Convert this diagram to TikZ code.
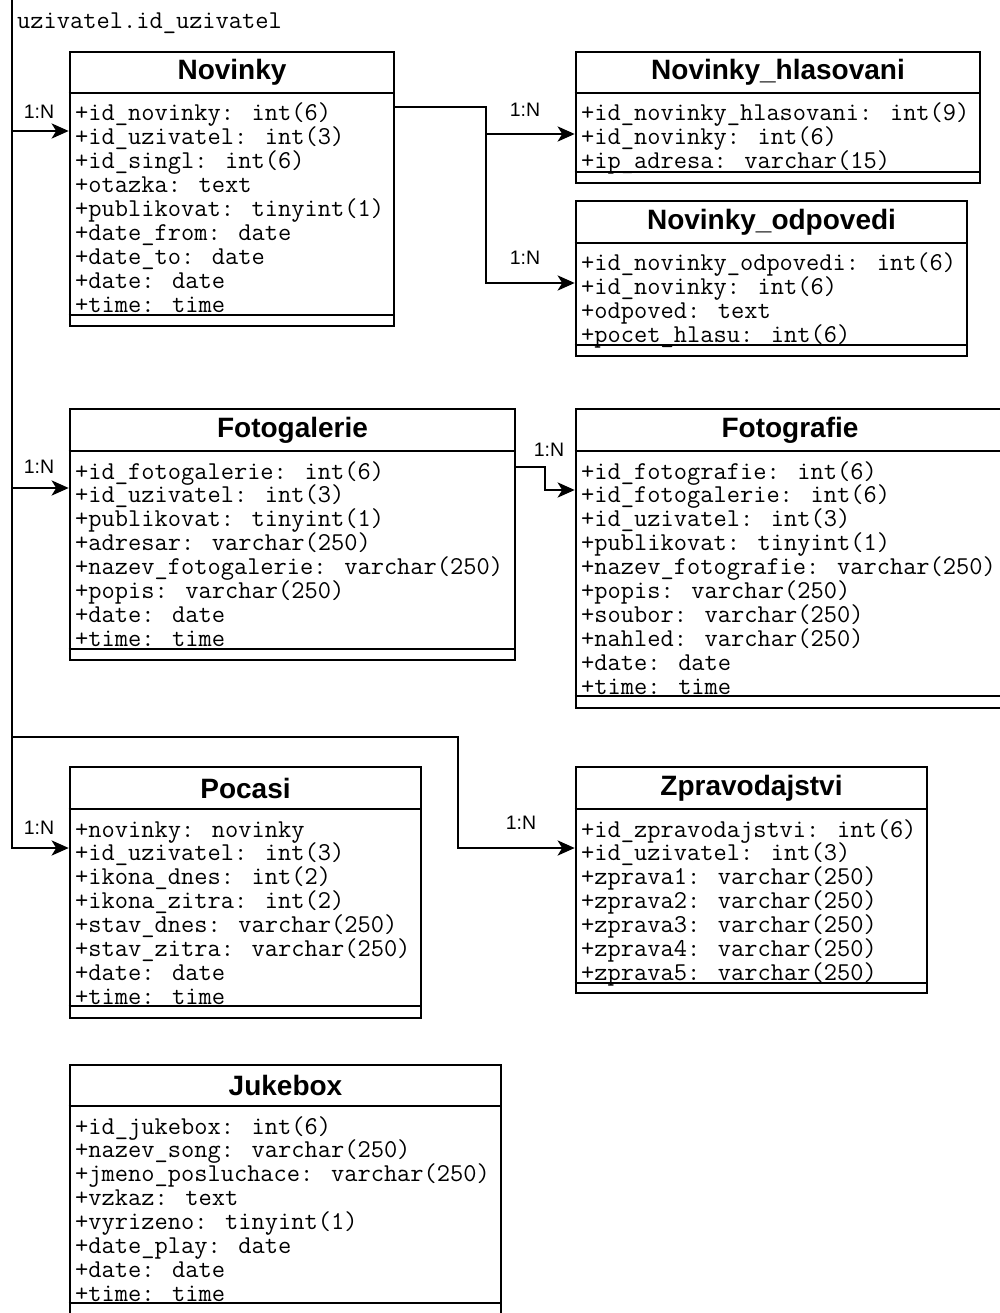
\documentclass[tikz,border=0pt]{standalone}
\usepackage{fontspec}
\setmainfont{Liberation Sans}
\usetikzlibrary{arrows.meta,fit}
\tikzset{
  box/.style={draw, line width=2.6pt, inner sep=0pt},
  sepline/.style={line width=2.4pt},
  titletext/.style={font=\fontsize{28}{30}\selectfont\bfseries, inner sep=0pt},
  attrtext/.style={anchor=base west, inner sep=0pt, font=\fontsize{25.7}{27}\ttfamily},
  conn/.style={line width=2.8pt},
  arr/.style={conn, -{Stealth[length=17pt,width=15pt,inset=4.5pt]}},
  card/.style={font=\fontsize{19.5}{21}\selectfont, inner sep=0pt}
}
% id, title, left, top, right, bottom, titlesep, attrsep, rows
\newcommand\umlclass[9]{%
  \node[box, fit={(#3,#4) (#5,#6)}] (#1) {};
  \draw[sepline] (#1.west |- #3,#7) -- (#1.east |- #5,#7);
  \draw[sepline] (#1.west |- #3,#8) -- (#1.east |- #5,#8);
  \node[titletext] (#1-title) at ({(#3+#5)/2},{(#4+#7)/2}) {#2};
  \foreach \r [count=\i from 0] in {#9} {
    \node[attrtext] (#1-\i) at (#3+5, #7+28+\i*23.9) {\r};
  }%
}
\begin{document}
\begin{tikzpicture}[x=1pt,y=-1pt]
\path[use as bounding box] (0,0) rectangle (1000,1313);
\clip (0,0) rectangle (1000,1313);

\umlclass{nov}{Novinky}{70}{52}{394}{326}{93}{315}{%
+id\_novinky: int(6),+id\_uzivatel: int(3),+id\_singl: int(6),+otazka: text,+publikovat: tinyint(1),+date\_from: date,+date\_to: date,+date: date,+time: time}

\umlclass{hla}{Novinky\_hlasovani}{576}{52}{980}{183}{93}{172}{%
+id\_novinky\_hlasovani: int(9),+id\_novinky: int(6),+ip\_adresa: varchar(15)}

\umlclass{odp}{Novinky\_odpovedi}{576}{201}{967}{356}{243}{345}{%
+id\_novinky\_odpovedi: int(6),+id\_novinky: int(6),+odpoved: text,+pocet\_hlasu: int(6)}

\umlclass{fgal}{Fotogalerie}{70}{409}{515}{660}{451}{649}{%
+id\_fotogalerie: int(6),+id\_uzivatel: int(3),+publikovat: tinyint(1),+adresar: varchar(250),+nazev\_fotogalerie: varchar(250),+popis: varchar(250),+date: date,+time: time}

\umlclass{fgr}{Fotografie}{576}{409}{1004}{708}{451}{696}{%
+id\_fotografie: int(6),+id\_fotogalerie: int(6),+id\_uzivatel: int(3),+publikovat: tinyint(1),+nazev\_fotografie: varchar(250),+popis: varchar(250),+soubor: varchar(250),+nahled: varchar(250),+date: date,+time: time}

\umlclass{poc}{Pocasi}{70}{767}{421}{1018}{809}{1006}{%
+novinky: novinky,+id\_uzivatel: int(3),+ikona\_dnes: int(2),+ikona\_zitra: int(2),+stav\_dnes: varchar(250),+stav\_zitra: varchar(250),+date: date,+time: time}

\umlclass{zpr}{Zpravodajstvi}{576}{767}{927}{993}{809}{983}{%
+id\_zpravodajstvi: int(6),+id\_uzivatel: int(3),+zprava1: varchar(250),+zprava2: varchar(250),+zprava3: varchar(250),+zprava4: varchar(250),+zprava5: varchar(250)}

\umlclass{juk}{Jukebox}{70}{1065}{501}{1335}{1106}{1303}{%
+id\_jukebox: int(6),+nazev\_song: varchar(250),+jmeno\_posluchace: varchar(250),+vzkaz: text,+vyrizeno: tinyint(1),+date\_play: date,+date: date,+time: time}

% foreign key trunk
\coordinate (trunk) at (12,-5);
\node[attrtext] (fk) at (17,29) {uzivatel.id\_uzivatel};
\draw[arr] (trunk) -- (12,848) -- (poc.west |- 0,848);
\draw[arr] (12,131) -- (nov.west |- 0,131);
\draw[arr] (12,488) -- (fgal.west |- 0,488);
\draw[arr] (12,737) -- (458,737) -- (458,848) -- (zpr.west |- 0,848);

% Novinky relations
\draw[arr] (nov.east |- 0,107) -- (486,107) -- (486,283) -- (odp.west |- 0,283);
\draw[arr] (486,134) -- (hla.west |- 0,134);

% Fotogalerie -> Fotografie
\draw[arr] (fgal.east |- 0,467) -- (545,467) -- (545,490) -- (fgr.west |- 0,490);

% cardinality labels
\node[card] (c1) at (39,112) {1:N};
\node[card] (c2) at (525,110) {1:N};
\node[card] (c3) at (525,258) {1:N};
\node[card] (c4) at (39,467) {1:N};
\node[card] (c5) at (549,450) {1:N};
\node[card] (c6) at (39,828) {1:N};
\node[card] (c7) at (521,823) {1:N};
\end{tikzpicture}
\end{document}
